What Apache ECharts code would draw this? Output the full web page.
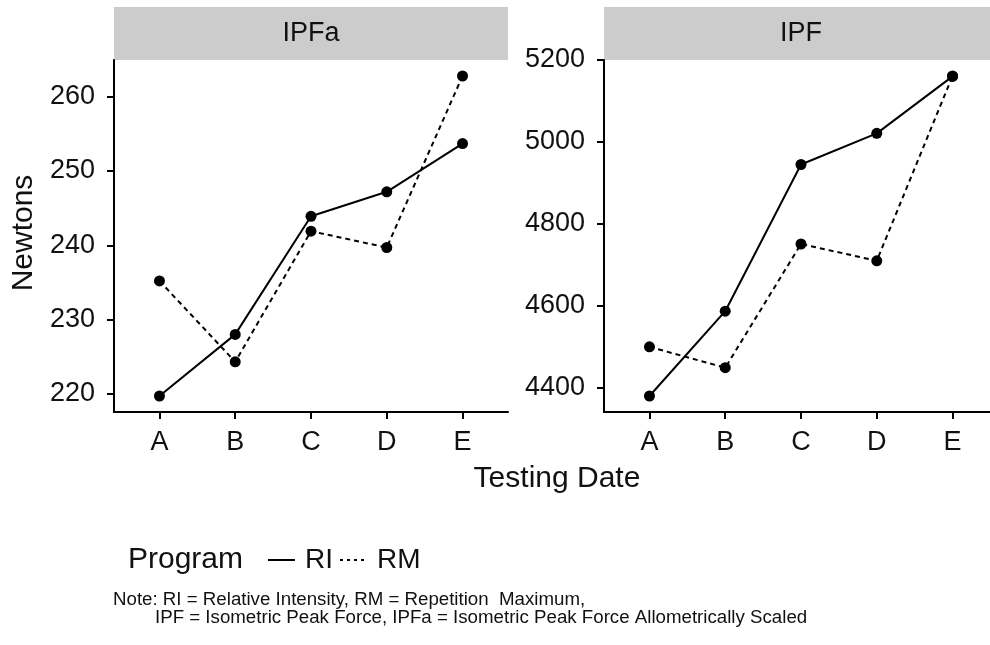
<!DOCTYPE html>
<html>
<head>
<meta charset="utf-8">
<script src="https://cdn.jsdelivr.net/npm/echarts@6/dist/echarts.min.js"></script>
<style>
  html, body { margin: 0; padding: 0; background: #ffffff; overflow: hidden; }
  /* the right facet runs a little past the window's right edge */
  #chart { width: 1000px; height: 645px; }
</style>
</head>
<body>
<div id="chart"></div>
<script>
// Testing dates (x categories) and training programs
const dates = ['A', 'B', 'C', 'D', 'E'];
const programs = ['RI', 'RM'];
const panels = ['IPFa', 'IPF'];

// Isometric peak force, allometrically scaled (N)
const ipfaRI = [219.7, 228.0, 243.9, 247.2, 253.7];
const ipfaRM = [235.2, 224.3, 241.9, 239.7, 262.8];

// Isometric peak force (N)
const ipfRI = [4380, 4587, 4945, 5021, 5160];
const ipfRM = [4500, 4449, 4751, 4710, 5161];

// Tick labels for each panel's y axis
const ipfaTicks = [220, 230, 240, 250, 260];
const ipfTicks = [4400, 4600, 4800, 5000, 5200];

const FONT = '"Liberation Sans", Arial, sans-serif';
const INK = '#111111';

// Continuous range padded 5% on each side, like a faceted plot's default expansion
function paddedRange(a, b) {
  const all = a.concat(b);
  const lo = Math.min.apply(null, all), hi = Math.max.apply(null, all);
  const pad = (hi - lo) * 0.05;
  return [lo - pad, hi + pad];
}
const toPoints = vals => vals.map((v, i) => [i, v]);

const grids = [
  { left: 114, top: 60, width: 394, height: 352 },
  { left: 604, top: 60, width: 394, height: 352 }
];
const catIdx = dates.map((d, i) => i);

function xAxisFor(gi) {
  return {
    type: 'value', gridIndex: gi, min: -0.6, max: dates.length - 0.4,
    axisLine: { show: true, onZero: false, lineStyle: { color: '#000', width: 2 } },
    axisTick: { show: true, customValues: catIdx, length: 7, lineStyle: { color: '#000', width: 2 } },
    axisLabel: {
      customValues: catIdx, formatter: v => dates[Math.round(v)],
      color: INK, fontSize: 27, fontFamily: FONT, margin: 17
    },
    splitLine: { show: false }
  };
}
function yAxisFor(gi, range, ticks) {
  return {
    type: 'value', gridIndex: gi, min: range[0], max: range[1],
    axisLine: { show: true, onZero: false, lineStyle: { color: '#000', width: 2 } },
    axisTick: { show: true, customValues: ticks, length: 7, lineStyle: { color: '#000', width: 2 } },
    axisLabel: {
      customValues: ticks, formatter: v => String(Math.round(v)),
      color: INK, fontSize: 27, fontFamily: FONT, margin: 19
    },
    splitLine: { show: false }
  };
}

function lineSeries(name, vals, gi, dashed) {
  return {
    name: name, type: 'line', xAxisIndex: gi, yAxisIndex: gi,
    data: toPoints(vals),
    symbol: 'circle', symbolSize: 11,
    itemStyle: { color: '#000' },
    lineStyle: { color: '#000', width: 2, type: dashed ? [5, 4] : 'solid' },
    emphasis: { disabled: true },
    silent: true
  };
}

// Grey facet strips with their titles
function strip(gi, label) {
  const g = grids[gi];
  return [
    { type: 'rect', shape: { x: g.left, y: 7, width: g.width, height: 53 },
      style: { fill: '#cccccc' }, silent: true },
    { type: 'text', x: g.left + g.width / 2, y: 34,
      style: { text: label, font: '27px ' + FONT, fill: INK, align: 'center', verticalAlign: 'middle' } }
  ];
}

const chart = echarts.init(document.getElementById('chart'), null, { renderer: 'canvas' });
chart.setOption({
  backgroundColor: '#ffffff',
  animation: false,
  grid: grids,
  xAxis: [xAxisFor(0), xAxisFor(1)],
  yAxis: [
    yAxisFor(0, paddedRange(ipfaRI, ipfaRM), ipfaTicks),
    yAxisFor(1, paddedRange(ipfRI, ipfRM), ipfTicks)
  ],
  series: [
    lineSeries(programs[0], ipfaRI, 0, false),
    lineSeries(programs[1], ipfaRM, 0, true),
    lineSeries(programs[0], ipfRI, 1, false),
    lineSeries(programs[1], ipfRM, 1, true)
  ],
  graphic: [].concat(
    strip(0, panels[0]),
    strip(1, panels[1]),
    [
      // axis titles
      { type: 'text', x: 24, y: 233, rotation: Math.PI / 2,
        style: { text: 'Newtons', font: '30px ' + FONT, fill: INK, align: 'center', verticalAlign: 'middle' } },
      { type: 'text', x: 557, y: 479,
        style: { text: 'Testing Date', font: '30px ' + FONT, fill: INK, align: 'center', verticalAlign: 'middle' } },
      // legend
      { type: 'text', x: 128, y: 560,
        style: { text: 'Program', font: '30px ' + FONT, fill: INK, align: 'left', verticalAlign: 'middle' } },
      { type: 'line', shape: { x1: 268, y1: 560, x2: 295, y2: 560 },
        style: { stroke: '#000', lineWidth: 2 } },
      { type: 'text', x: 305, y: 560,
        style: { text: programs[0], font: '28px ' + FONT, fill: INK, align: 'left', verticalAlign: 'middle' } },
      { type: 'line', shape: { x1: 340, y1: 560, x2: 364, y2: 560 },
        style: { stroke: '#000', lineWidth: 2, lineDash: [3, 4] } },
      { type: 'text', x: 377, y: 560,
        style: { text: programs[1], font: '28px ' + FONT, fill: INK, align: 'left', verticalAlign: 'middle' } },
      // footnote
      { type: 'text', x: 113, y: 600,
        style: { text: 'Note: RI = Relative Intensity, RM = Repetition  Maximum,', font: '18.7px ' + FONT,
                 fill: INK, align: 'left', verticalAlign: 'middle' } },
      { type: 'text', x: 155, y: 618,
        style: { text: 'IPF = Isometric Peak Force, IPFa = Isometric Peak Force Allometrically Scaled', font: '18.7px ' + FONT,
                 fill: INK, align: 'left', verticalAlign: 'middle' } }
    ]
  )
});
</script>
</body>
</html>
